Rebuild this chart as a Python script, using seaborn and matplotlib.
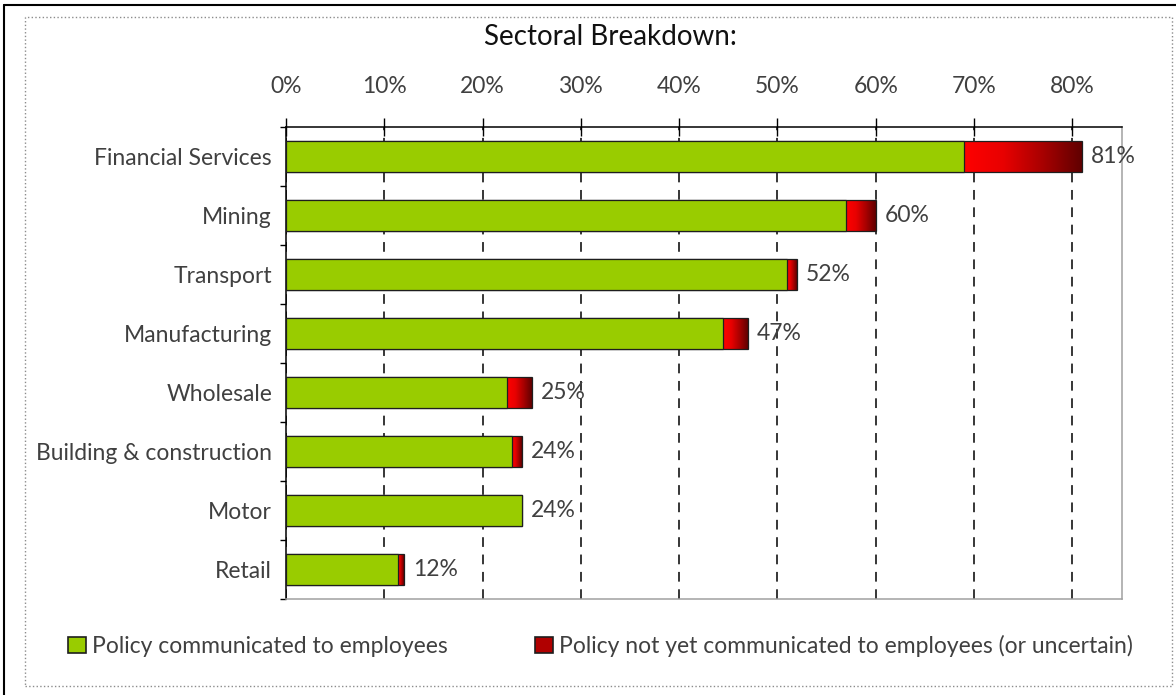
import numpy as np
import pandas as pd
import matplotlib
matplotlib.use("Agg")
import matplotlib.pyplot as plt
import seaborn as sns
from matplotlib.patches import Patch, Rectangle
from matplotlib.lines import Line2D
from matplotlib.colors import LinearSegmentedColormap

# Share of firms with a policy, by sector (%)
sectors = ["Financial Services", "Mining", "Transport", "Manufacturing",
           "Wholesale", "Building & construction", "Motor", "Retail"]
communicated = [69, 57, 51, 44.5, 22.5, 23, 24, 11.4]   # policy communicated to employees
totals = [81, 60, 52, 47, 25, 24, 24, 12]                # all firms with a policy
x_ticks = [0, 10, 20, 30, 40, 50, 60, 70, 80]
x_tick_labels = [f"{t}%" for t in x_ticks]
legend_labels = ["Policy communicated to employees",
                 "Policy not yet communicated to employees (or uncertain)"]

GREEN = "#99cc00"
EDGE = "#1e1e1e"
TEXT = "#404040"
red_cmap = LinearSegmentedColormap.from_list("red_shade", ["#ff0000", "#e80000", "#a80000", "#600000"])

sns.set_theme(style="white")
plt.rcParams["font.family"] = ["Lato", "DejaVu Sans"]
plt.rcParams["lines.scale_dashes"] = False

W, H = 1176, 695
FS = 16.5
fig = plt.figure(figsize=(W / 100, H / 100), dpi=100)
ax = fig.add_axes([286 / W, 1 - 599 / H, (1122 - 286) / W, (599 - 127) / H])

df = pd.DataFrame({"sector": sectors, "communicated": communicated, "total": totals})

# total bar outline; its visible tail gets a red shading below
sns.barplot(data=df, x="total", y="sector", orient="h", color="#cc0000",
            width=0.52, linewidth=0.9, edgecolor=EDGE, ax=ax, saturation=1)
n = len(sectors)
total_patches = list(ax.patches)
sns.barplot(data=df, x="communicated", y="sector", orient="h", color=GREEN,
            width=0.52, linewidth=0.9, edgecolor=EDGE, ax=ax, saturation=1)
green_patches = [p for p in ax.patches if p not in total_patches]

grad = np.linspace(0, 1, 256).reshape(1, -1)
for p, g, t in zip(total_patches, communicated, totals):
    p.set_facecolor("none")
    p.set_zorder(2.6)
    y0, h = p.get_y(), p.get_height()
    if t > g:
        im = ax.imshow(grad, extent=[g, t, y0, y0 + h], aspect="auto",
                       cmap=red_cmap, zorder=2.2, interpolation="bilinear")
        im.set_clip_path(p)
for p in green_patches:
    p.set_zorder(3)

for i, t in enumerate(totals):
    ax.text(t + 0.9, i, f"{t}%", va="center", ha="left", fontsize=FS,
            color=TEXT, zorder=4)

ax.set_xlim(0, 85.05)
ax.set_ylim(n - 0.5, -0.5)
ax.set_xlabel("")
ax.set_ylabel("")

# percentage scale along the top
ax.xaxis.set_ticks_position("top")
ax.set_xticks(x_ticks)
ax.set_xticklabels(x_tick_labels)
ax.tick_params(axis="x", which="major", top=True, bottom=False, labeltop=True, labelbottom=False,
               direction="inout", length=13, width=1.0, color="black",
               pad=15, labelsize=FS, labelcolor=TEXT)
ax.xaxis.grid(True, linestyle=(0, (7, 5.5)), color="black", linewidth=1.1, zorder=0.5)
ax.set_axisbelow(True)

# category labels with separator ticks between rows
ax.set_yticks(range(n))
ax.set_yticklabels(sectors)
ax.set_yticks(np.arange(-0.5, n, 1.0), minor=True)
ax.tick_params(axis="y", which="major", left=True, length=0, pad=10, labelsize=FS, labelcolor=TEXT)
ax.tick_params(axis="y", which="minor", left=True, direction="out", length=4, width=1.0, color="black")

for side, col in [("top", "black"), ("left", "black"), ("right", "#a0a0a0"), ("bottom", "#a0a0a0")]:
    ax.spines[side].set_visible(True)
    ax.spines[side].set_color(col)
    ax.spines[side].set_linewidth(1.1)

fig.text(610 / W, 1 - 37 / H, "Sectoral Breakdown:", ha="center", va="center",
         fontsize=20, color="#111111")

handles = [Patch(facecolor=GREEN, edgecolor=EDGE, linewidth=1.2),
           Patch(facecolor="#b00000", edgecolor=EDGE, linewidth=1.2)]
fig.legend(handles, legend_labels, loc="center left", bbox_to_anchor=(68 / W, 1 - 646 / H),
           ncol=2, frameon=False, prop={"size": FS},
           handlelength=0.8, handleheight=0.75,
           handletextpad=0.25, columnspacing=3.8, labelcolor=TEXT, borderaxespad=0, borderpad=0)

# page frame
fig.add_artist(Rectangle((25 / W, 1 - 686 / H), (1172 - 25) / W, (686 - 17) / H,
                         transform=fig.transFigure, fill=False, linestyle=":",
                         edgecolor="#8c8c8c", linewidth=1.0))
fig.add_artist(Line2D([4 / W, 4 / W], [0, 1 - 5 / H], transform=fig.transFigure,
                      color="black", linewidth=1.5))
fig.add_artist(Line2D([4 / W, 1], [1 - 5 / H, 1 - 5 / H], transform=fig.transFigure,
                      color="black", linewidth=1.5))

fig.savefig("out.png", dpi=100, facecolor="white")
